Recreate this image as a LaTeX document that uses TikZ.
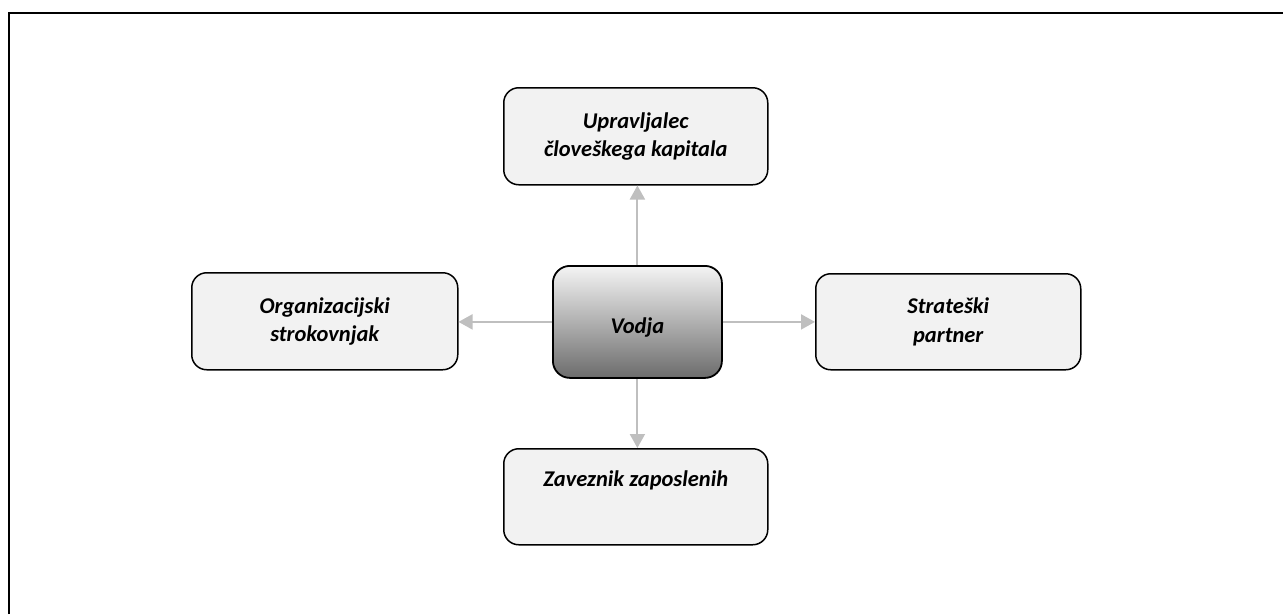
\documentclass[tikz,border=0pt]{standalone}
\usepackage{fontspec}
\setmainfont{Carlito}
\usetikzlibrary{arrows.meta}
\definecolor{boxfill}{HTML}{F2F2F2}
\definecolor{linkgray}{HTML}{BFBFBF}
\definecolor{shadetop}{HTML}{F4F4F4}
\definecolor{shadebot}{HTML}{6C6C6C}
\begin{document}
\begin{tikzpicture}[x=1pt,y=-1pt,
  rolebox/.style={draw=black, line width=1.5pt, rounded corners=15pt,
    fill=boxfill, inner sep=0pt, anchor=north west, align=center,
    font=\fontsize{22.5}{28.5}\selectfont\bfseries\itshape},
  leaderbox/.style={draw=black, line width=1.8pt, rounded corners=17pt,
    top color=shadetop, bottom color=shadebot, inner sep=0pt,
    anchor=north west},
  leadertext/.style={font=\fontsize{22.5}{28.5}\selectfont\bfseries\itshape},
  link/.style={draw=linkgray, line width=2pt,
    -{Triangle[length=14pt,width=15pt]}}]
  \useasboundingbox (0,0) rectangle (1283,614);
  % open frame: left and top edges only
  \coordinate (frameBL) at (9,614);
  \coordinate (frameTL) at (9,13);
  \coordinate (frameTR) at (1283,13);
  \draw[line width=2pt] (frameBL) -- (frameTL) -- (frameTR);

  % central node
  \node[leaderbox, minimum width=169pt, minimum height=112pt] (vodja) at (552,265) {};
  \node[leadertext, yshift=-6pt] (vodjaT) at (vodja.center) {Vodja};

  % surrounding roles
  \node[rolebox, minimum width=264pt, minimum height=97pt] (top) at (503,87)
    {Upravljalec\\človeškega kapitala};
  \node[rolebox, minimum width=266pt, minimum height=97pt] (left) at (191,272)
    {Organizacijski\\strokovnjak};
  \node[rolebox, minimum width=265pt, minimum height=96pt] (right) at (815,273)
    {Strateški\\partner};
  \node[rolebox, minimum width=264pt, minimum height=96pt] (bottom) at (503,448)
    {Zaveznik zaposlenih\\\strut};

  % connectors
  \draw[link] (vodja.north) -- (vodja.north |- top.south);
  \draw[link] (vodja.south) -- (vodja.south |- bottom.north);
  \draw[link] (vodja.west) -- (vodja.west -| left.east);
  \draw[link] (vodja.east) -- (vodja.east -| right.west);
\end{tikzpicture}
\end{document}
